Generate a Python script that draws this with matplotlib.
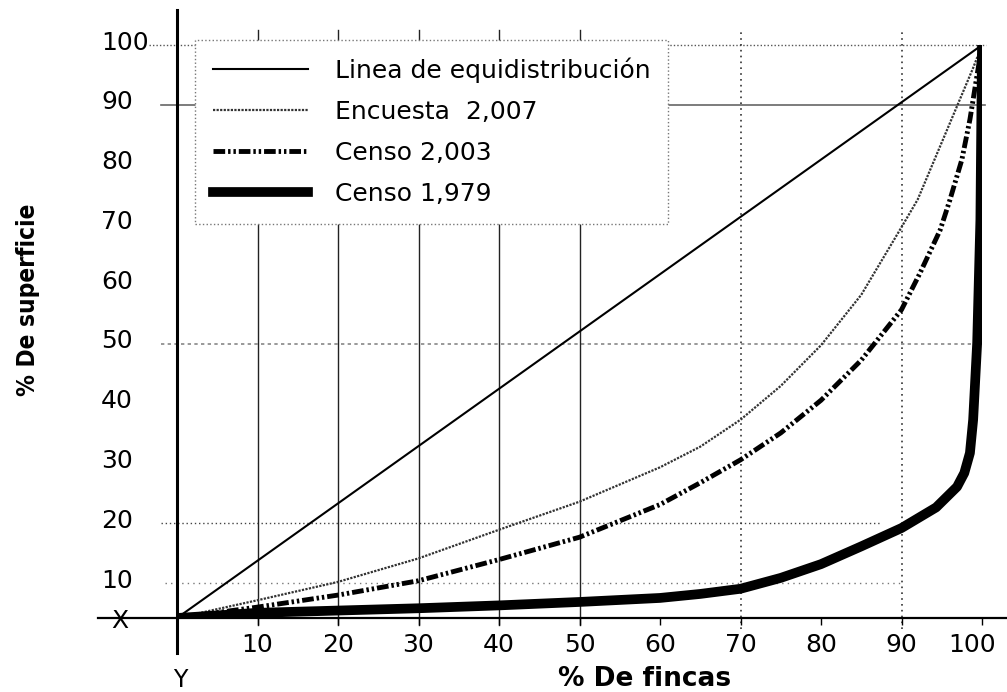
import matplotlib.pyplot as plt
from matplotlib.transforms import ScaledTranslation

# Curvas de Lorenz: % de fincas (x) contra % de superficie (y)
equi_x = [0, 100]
equi_y = [0, 100]

enc2007_x = [0, 10, 20, 30, 40, 50, 60, 65, 70, 75, 80, 85, 90, 92, 95.6, 98.9, 100]
enc2007_y = [0, 3.1, 6.3, 10.4, 15.4, 20.3, 26.3, 29.9, 34.6, 40.5, 47.6, 56.4, 68.2, 73, 85, 96, 100]

censo2003_x = [0, 10, 20, 30, 40, 50, 60, 65, 70, 75, 80, 85, 90, 92.3, 94.8, 96, 97.5, 98.5, 99.3, 100]
censo2003_y = [0, 1.9, 4.0, 6.5, 10.2, 14.1, 19.8, 23.6, 27.6, 32.3, 38, 45, 53.8, 60.2, 67.7, 72.9, 80, 87, 94, 100]

censo1979_x = [0, 10, 20, 30, 40, 50, 60, 65, 70, 75, 80, 85, 90, 94.3, 96.9, 97.8, 98.5, 98.9, 99.4, 99.8, 100]
censo1979_y = [0, 0.9, 1.3, 1.7, 2.2, 2.8, 3.5, 4.2, 5.1, 7, 9.4, 12.5, 15.7, 19.3, 22.9, 25.3, 28.8, 34.6, 48, 69.5, 100]

labels = ['Linea de equidistribución', 'Encuesta  2,007', 'Censo 2,003', 'Censo 1,979']

x_ticks = [10, 20, 30, 40, 50, 60, 70, 80, 90, 100]
y_ticks = [10, 20, 30, 40, 50, 60, 70, 80, 90, 100]

plt.rcParams['font.family'] = ['DejaVu Sans']

fig = plt.figure(figsize=(10.07, 6.92), dpi=100)
ax = fig.add_axes([177 / 1007, 74 / 692, 805 / 1007, 573 / 692])
ax.set_xlim(0, 100)
ax.set_ylim(0, 100)

# the printed y scale does not start at the origin: a second axis carries it
lab = ax.twinx()
lab.set_zorder(ax.get_zorder() - 1)
ax.patch.set_visible(False)
lab.set_ylim(4.15, 100)
lab.yaxis.tick_left()
ax.set_yticks([])

for a in (ax, lab):
    for s in a.spines.values():
        s.set_visible(False)

# grid, as it survives in the scan
lab.axhline(100, xmin=-0.035, xmax=1.005, color='#555555', lw=1, ls=(0, (1, 1.5)), clip_on=False)
lab.axhline(90, xmin=-0.02, xmax=1.004, color='#666666', lw=1.2, clip_on=False)
lab.axhline(50, xmin=-0.02, xmax=1.0, color='#888888', lw=1.2, ls=(0, (2, 2)), clip_on=False)
lab.axhline(20, xmin=-0.02, xmax=0.875, color='#444444', lw=1, ls=(0, (1, 2)), clip_on=False)
lab.axhline(10, xmin=-0.015, xmax=0.9, color='#777777', lw=1, ls=(0, (1, 3)), clip_on=False)
for xv in [10, 20, 30, 40, 50]:
    lab.axvline(xv, ymin=-0.012, ymax=1.026, color='#222222', lw=1, clip_on=False)
for xv in [70, 90]:
    lab.axvline(xv, ymin=-0.02, ymax=1.026, color='#333333', lw=1.2, ls=(0, (1, 2.5)), clip_on=False)

# axis lines running past the plot area
ax.plot([-0.098, 1.031], [0, 0], transform=ax.transAxes, color='black', lw=1.6, clip_on=False)
ax.plot([0, 0], [-0.061, 1.061], transform=ax.transAxes, color='black', lw=2.2, clip_on=False)

ax.plot(equi_x, equi_y, color='black', lw=1.5, label=labels[0])
ax.plot(enc2007_x, enc2007_y, color='#333333', lw=1.6, ls=(0, (1.0, 0.6)), label=labels[1])
ax.plot(censo2003_x, censo2003_y, color='black', lw=3.5,
        ls=(0, (2.4, 0.6, 0.5, 0.6, 0.5, 0.6)), label=labels[2])
ax.plot(censo1979_x, censo1979_y, color='black', lw=7, solid_joinstyle='round', label=labels[3])

ax.set_xticks(x_ticks, [str(v) for v in x_ticks])
ax.tick_params(axis='x', length=5, width=1, pad=6, labelsize=18, direction='out')
lab.set_yticks(y_ticks, [str(v) for v in y_ticks], ha='left')
lab.tick_params(axis='y', length=0, pad=54.7, labelsize=18)
up = ScaledTranslation(0, 0.05, fig.dpi_scale_trans)
for t in lab.get_yticklabels():
    t.set_transform(t.get_transform() + up)
left = ScaledTranslation(-0.1, 0, fig.dpi_scale_trans)
xl = ax.get_xticklabels()
xl[-1].set_transform(xl[-1].get_transform() + left)

ax.set_xlabel('% De fincas', fontsize=19, fontweight='bold', va='center')
ax.xaxis.set_label_coords(0.581, -0.107)
ax.set_ylabel('% De superficie', fontsize=17.5, fontweight='bold', va='center', fontstretch='condensed')
ax.yaxis.set_label_coords(-0.185, 0.555)

ax.text(-0.071, -0.005, 'X', transform=ax.transAxes, fontsize=18, ha='center', va='center')
ax.text(0.004, -0.108, 'Y', transform=ax.transAxes, fontsize=17, ha='center', va='center')

leg = ax.legend(loc='upper left', bbox_to_anchor=(0.0224, 1.0087), fontsize=18,
                handlelength=3.8, handletextpad=1.1, labelspacing=0.68, borderpad=0.7,
                borderaxespad=0, fancybox=False, framealpha=1, edgecolor='#777777')
leg.get_frame().set_linestyle(':')
leg.get_frame().set_linewidth(1)

fig.savefig('out.png', dpi=100)
